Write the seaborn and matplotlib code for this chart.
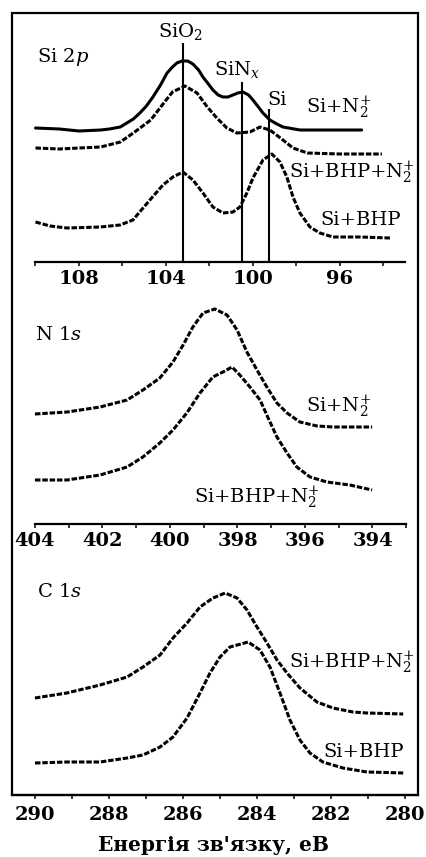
import numpy as np
import pandas as pd
import matplotlib
matplotlib.use("Agg")
import matplotlib.pyplot as plt
from matplotlib.patches import Rectangle
from matplotlib.ticker import MultipleLocator
import seaborn as sns

# ---- Si 2p spectra (binding energy, eV / intensity, arb. units) ----
si2p_n2_e = [110.0, 108.9, 108.0, 107.0, 106.6, 106.1, 105.8, 105.5, 105.2, 104.9, 104.6, 104.25,
             103.95, 103.7, 103.5, 103.26, 103.0, 102.76, 102.5, 102.3, 102.05, 101.84, 101.6,
             101.38, 101.15, 100.92, 100.7, 100.46, 100.2, 100.0, 99.75, 99.54, 99.22, 98.9,
             98.62, 97.84, 96.46, 95.0]
si2p_n2_i = [134, 133, 131, 132, 133, 135, 139, 143, 149, 156, 165, 177, 189, 195, 199, 201, 201,
             198, 192, 185, 178, 172, 167, 165, 165, 167, 169, 170, 167, 162, 155, 149, 142, 138,
             135, 132, 132, 132]

si2p_bhp_n2_e = [110.0, 108.9, 108.0, 107.0, 106.1, 105.5, 104.7, 104.1, 103.7, 103.13, 102.57,
                 102.1, 101.66, 101.2, 100.74, 100.14, 99.68, 99.22, 98.62, 98.16, 97.5,
                 96.0, 94.07]
si2p_bhp_n2_i = [114, 113, 114, 115, 120, 129, 142, 159, 170, 176, 169, 155, 144, 134, 129, 130,
                 135, 132, 122, 114, 109, 108, 108]

si2p_bhp_e = [110.0, 109.33, 108.55, 107.03, 106.11, 105.52, 104.74, 104.14, 103.68, 103.22,
              102.76, 102.3, 101.84, 101.38, 100.92, 100.6, 100.28, 100.0, 99.54, 99.13, 98.76,
              98.44, 98.16, 97.84, 97.38, 96.92, 96.32, 95.08, 93.7]
si2p_bhp_i = [40, 36, 34, 35, 37, 42, 62, 77, 85, 90, 82, 69, 55, 49, 50, 55, 69, 84, 102, 108,
              100, 85, 65, 49, 35, 29, 25, 25, 24]

# reference binding energies of the chemical states
ref_names = ["SiO$_2$", "SiN$_x$", "Si"]
ref_energy = [103.2, 100.5, 99.25]
ref_height = [219, 180, 153]

# ---- N 1s spectra ----
n1s_n2_e = [404.0, 403.05, 402.07, 401.27, 400.8, 400.3, 399.91, 399.61, 399.32, 399.02, 398.67,
            398.31, 398.01, 397.72, 397.42, 397.13, 396.83, 396.53, 396.15, 395.64, 395.17, 394.01]
n1s_n2_i = [110, 112, 117, 124, 134, 146, 162, 179, 197, 211, 215, 209, 194, 172, 154, 137, 121,
            111, 102, 98, 97, 97]

n1s_bhp_n2_e = [404.0, 403.05, 402.07, 401.27, 400.8, 400.3, 399.91, 399.5, 399.11, 398.73,
                398.43, 398.16, 397.93, 397.63, 397.33, 397.13, 396.83, 396.53, 396.24, 395.85,
                395.35, 394.67, 394.01]
n1s_bhp_n2_i = [44, 44, 49, 57, 67, 81, 94, 111, 131, 147, 152, 157, 149, 137, 124, 109, 87, 71,
                57, 47, 42, 39, 34]

# ---- C 1s spectra ----
c1s_bhp_n2_e = [290.0, 289.14, 288.24, 287.51, 287.08, 286.62, 286.27, 285.89, 285.54, 285.19,
                284.86, 284.54, 284.27, 284.0, 283.73, 283.46, 283.19, 282.84, 282.38, 281.95,
                281.41, 281.03, 280.05]
c1s_bhp_n2_i = [97, 102, 110, 118, 128, 140, 157, 172, 188, 197, 202, 197, 185, 168, 152, 135,
                122, 107, 93, 87, 83, 82, 81]

c1s_bhp_e = [290.0, 289.14, 288.24, 287.51, 287.08, 286.62, 286.27, 285.89, 285.54, 285.27,
             285.0, 284.73, 284.24, 283.92, 283.65, 283.38, 283.11, 282.84, 282.57, 282.22,
             281.68, 281.03, 280.05]
c1s_bhp_i = [32, 33, 33, 37, 40, 48, 58, 77, 102, 122, 138, 148, 153, 145, 128, 102, 75, 55, 42,
             33, 27, 23, 22]

# tick labels
si2p_ticks = [108, 104, 100, 96]
n1s_ticks = [404, 402, 400, 398, 396, 394]
c1s_ticks = [290, 288, 286, 284, 282, 280]

sample_n2 = "Si+N$_2^{+}$"
sample_bhp_n2 = "Si+BHP+N$_2^{+}$"
sample_bhp = "Si+BHP"
xlabel = "Енергія зв'язку, еВ"

sns.set_theme(style="white")
plt.rcParams["font.family"] = ["DejaVu Serif"]
plt.rcParams["mathtext.fontset"] = "dejavuserif"
plt.rcParams["text.color"] = "black"
plt.rcParams["xtick.color"] = "black"
plt.rcParams["xtick.labelcolor"] = "black"

W, H = 426, 857
fig = plt.figure(figsize=(W / 100, H / 100), dpi=100)
fig.patch.set_facecolor("white")


def px_axes(top, bottom, left=12, right=418):
    return fig.add_axes([left / W, 1 - bottom / H, (right - left) / W, (bottom - top) / H])


def fig_text(x, y, s, **kw):
    fig.text(x / W, 1 - y / H, s, transform=fig.transFigure, **kw)


def style_axis(ax, xlim, bounds, majors, minor_step, height):
    ax.set_xlim(*xlim)
    ax.set_ylim(0, height)
    ax.patch.set_alpha(0)
    for side in ("top", "left", "right"):
        ax.spines[side].set_visible(False)
    ax.spines["bottom"].set_visible(True)
    ax.spines["bottom"].set_color("black")
    ax.spines["bottom"].set_linewidth(1.6)
    ax.spines["bottom"].set_bounds(*bounds)
    ax.set_yticks([])
    ax.set_xticks(majors)
    ax.set_xticklabels([str(t) for t in majors], fontsize=14, fontweight="bold", color="black")
    ax.xaxis.set_minor_locator(MultipleLocator(minor_step))
    ax.tick_params(axis="x", which="both", direction="out", length=3, width=1.1,
                   color="black", pad=3, bottom=True)
    ax.set_xlabel("")
    ax.set_ylabel("")


def draw(ax, e, i, dashed=False, lw=2.0):
    df = pd.DataFrame({"E": e, "I": i})
    kw = dict(dashes=(1.8, 0.6)) if dashed else {}
    sns.lineplot(data=df, x="E", y="I", ax=ax, color="black", lw=lw,
                 estimator=None, sort=False, **kw)


text_kw = dict(fontsize=14, color="black", va="center")

# ---------------- Si 2p ----------------
ax1 = px_axes(13, 262)
draw(ax1, si2p_n2_e, si2p_n2_i, lw=2.2)
draw(ax1, si2p_bhp_n2_e, si2p_bhp_n2_i, dashed=True, lw=2.2)
draw(ax1, si2p_bhp_e, si2p_bhp_i, dashed=True, lw=2.2)
for e0, h0 in zip(ref_energy, ref_height):
    ax1.vlines(e0, 0, h0, color="black", lw=1.5)
style_axis(ax1, (111.08, 92.41), (110, 93), si2p_ticks, 2, 249)

fig_text(37, 57, "Si 2$p$", ha="left", **text_kw)
fig_text(181, 32, ref_names[0], ha="center", **text_kw)
fig_text(237, 70, ref_names[1], ha="center", **text_kw)
fig_text(277, 100, ref_names[2], ha="center", **text_kw)
fig_text(306, 108, sample_n2, ha="left", **text_kw)
fig_text(289, 173, sample_bhp_n2, ha="left", **text_kw)
fig_text(320, 220, sample_bhp, ha="left", **text_kw)

# ---------------- N 1s ----------------
ax2 = px_axes(290, 524)
draw(ax2, n1s_n2_e, n1s_n2_i, dashed=True, lw=2.2)
draw(ax2, n1s_bhp_n2_e, n1s_bhp_n2_i, dashed=True, lw=2.2)
style_axis(ax2, (404.68, 392.65), (404, 393), n1s_ticks, 1, 234)

fig_text(35, 335, "N 1$s$", ha="left", **text_kw)
fig_text(306, 407, sample_n2, ha="left", **text_kw)
fig_text(194, 498, sample_bhp_n2, ha="left", **text_kw)

# ---------------- C 1s ----------------
ax3 = px_axes(560, 795)
draw(ax3, c1s_bhp_n2_e, c1s_bhp_n2_i, dashed=True, lw=2.2)
draw(ax3, c1s_bhp_e, c1s_bhp_i, dashed=True, lw=2.2)
style_axis(ax3, (290.62, 279.65), (290.62, 279.65), c1s_ticks, 1, 235)
ax3.tick_params(axis="x", pad=5)

fig_text(37, 592, "C 1$s$", ha="left", **text_kw)
fig_text(289, 663, sample_bhp_n2, ha="left", **text_kw)
fig_text(323, 752, sample_bhp, ha="left", **text_kw)

fig_text(213, 845, xlabel, ha="center", fontsize=14.5, fontweight="bold", va="center",
         color="black")

# outer frame around all three panels
fig.patches.append(Rectangle((12 / W, 1 - 795 / H), 406 / W, 782 / H, transform=fig.transFigure,
                             fill=False, edgecolor="black", lw=1.6, zorder=10))

fig.savefig("out.png", dpi=100, facecolor="white")
